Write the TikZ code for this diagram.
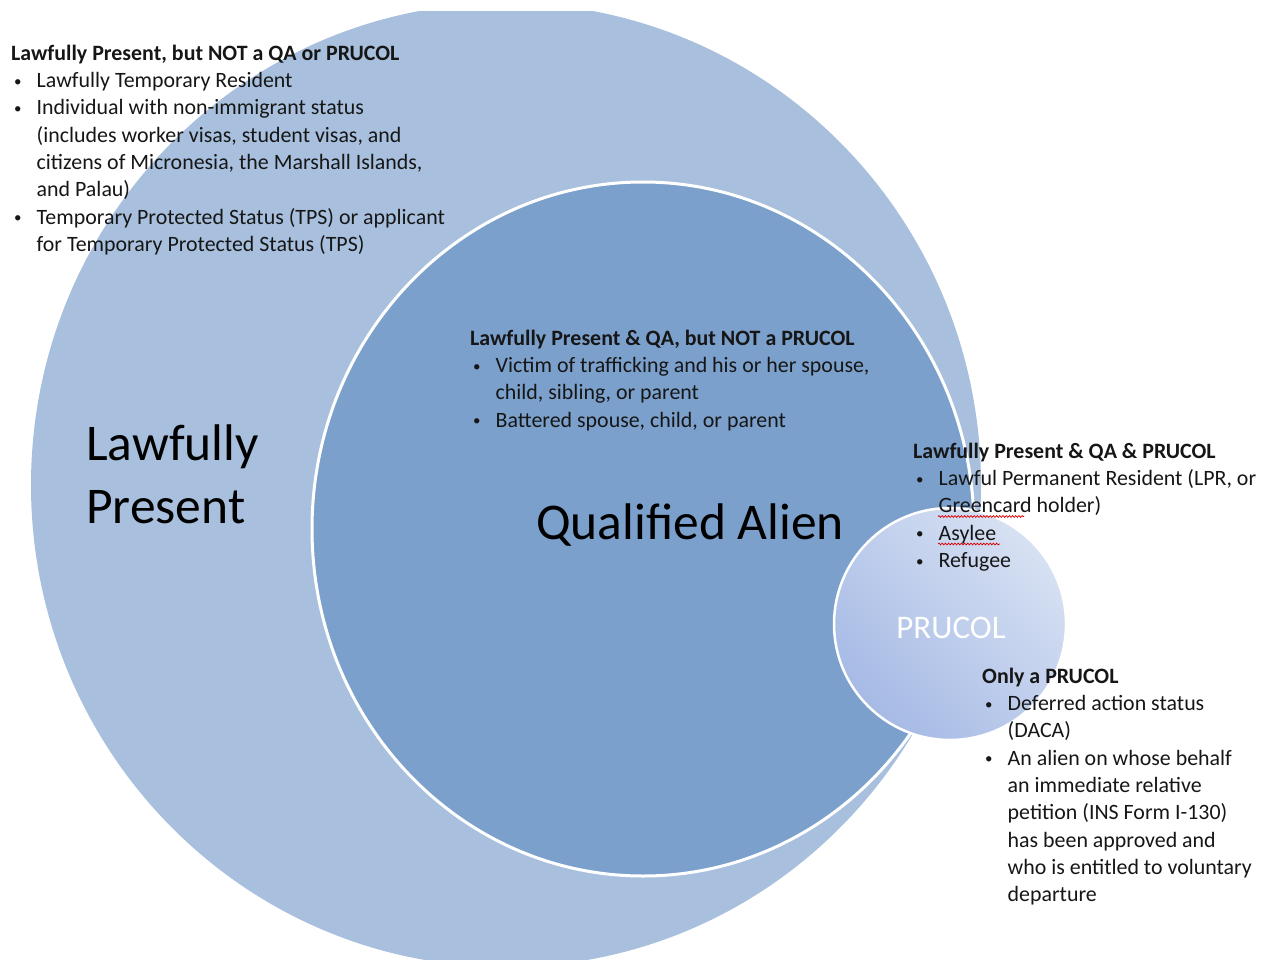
\documentclass[tikz,border=0pt]{standalone}
\usepackage{fontspec}
\setmainfont{Carlito}
\usetikzlibrary{decorations.pathmorphing}

\definecolor{lpfill}{HTML}{A8C0DE}
\definecolor{qafill}{HTML}{7BA0CC}
\definecolor{prlight}{HTML}{D7E1F3}
\definecolor{prdark}{HTML}{A6BAE5}
\definecolor{ink}{HTML}{161616}

% bullet line and continuation line inside a text block
\newcommand{\smallbullet}{\raisebox{1.5pt}{\fontsize{15}{15}\selectfont •}}
\newcommand{\bulletline}[1]{\hspace*{3pt}\makebox[22.5pt][l]{\smallbullet}#1}
\newcommand{\contline}[1]{\hspace*{25.5pt}#1}

\tikzset{
  textblock/.style={anchor=north west, inner sep=0pt, align=left, text=ink,
    font=\fontsize{21.9}{27.3}\selectfont},
  biglabel/.style={inner sep=0pt, text=black, font=\fontsize{51.5}{63}\selectfont},
  spellmark/.style={draw=red!85!black, line width=0.7pt,
    decorate, decoration={snake, amplitude=0.9pt, segment length=3.2pt}}
}

\begin{document}
\begin{tikzpicture}[x=1pt, y=-1pt]
  \useasboundingbox (0,0) rectangle (1271,960);

  % outer region: lawfully present
  \begin{scope}
    \clip (0,12) rectangle (1271,960);
    \fill[lpfill] (506,485) ellipse [x radius=475pt, y radius=482pt];
  \end{scope}

  % qualified alien region
  \fill[qafill, draw=white, line width=3pt] (643,529) ellipse [x radius=331pt, y radius=347pt];

  % PRUCOL region, lighter towards the upper right
  \shade[shading=axis, left color=prlight, right color=prdark, shading angle=-45]
    (950,624) circle [radius=116pt];
  \draw[white, line width=2.5pt] (950,624) circle [radius=116pt];

  % big region labels
  \node[biglabel, anchor=north west, align=left] (lp) at (86,416) {\strut Lawfully\\Present};
  \node[biglabel, anchor=base west] (qa) at (536,539) {Qualified Alien};
  \node[inner sep=0pt, anchor=base, text=white, font=\fontsize{33}{40}\selectfont] (pr) at (951,638) {PRUCOL};

  % category descriptions
  \node[textblock] (onlylp) at (11,41) {%
    \strut\textbf{Lawfully Present, but NOT a QA or PRUCOL}\\
    \bulletline{Lawfully Temporary Resident}\\
    \bulletline{Individual with non-immigrant status}\\
    \contline{(includes worker visas, student visas, and}\\
    \contline{citizens of Micronesia, the Marshall Islands,}\\
    \contline{and Palau)}\\
    \bulletline{Temporary Protected Status (TPS) or applicant}\\
    \contline{for Temporary Protected Status (TPS)}};

  \node[textblock] (qanotpr) at (470,326) {%
    \strut\textbf{Lawfully Present \& QA, but NOT a PRUCOL}\\
    \bulletline{Victim of trafficking and his or her spouse,}\\
    \contline{child, sibling, or parent}\\
    \bulletline{Battered spouse, child, or parent}};

  \node[textblock] (all) at (913,439) {%
    \strut\textbf{Lawfully Present \& QA \& PRUCOL}\\
    \bulletline{Lawful Permanent Resident (LPR, or}\\
    \contline{Greencard holder)}\\
    \bulletline{Asylee}\\
    \bulletline{Refugee}};

  \node[textblock] (onlypr) at (982,664) {%
    \strut\textbf{Only a PRUCOL}\\
    \bulletline{Deferred action status}\\
    \contline{(DACA)}\\
    \bulletline{An alien on whose behalf}\\
    \contline{an immediate relative}\\
    \contline{petition (INS Form I-130)}\\
    \contline{has been approved and}\\
    \contline{who is entitled to voluntary}\\
    \contline{departure}};

  % spell-check marks under two words
  \draw[spellmark] (938,516.5) -- (1024,516.5);
  \draw[spellmark] (938,544) -- (1000,544);
\end{tikzpicture}
\end{document}
